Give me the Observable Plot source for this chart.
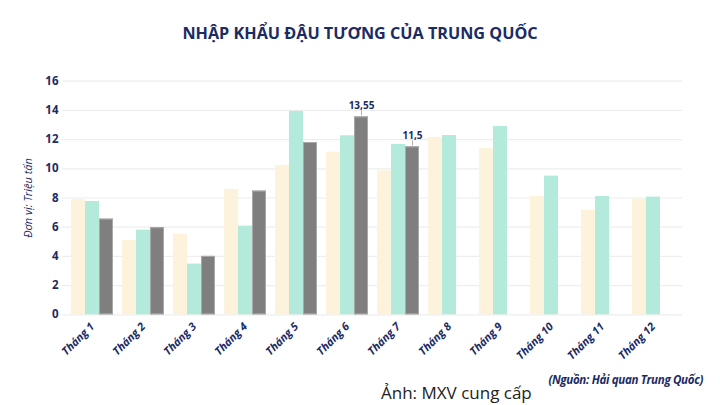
<!DOCTYPE html>
<html>
<head>
<meta charset="utf-8">
<script src="https://cdn.jsdelivr.net/npm/d3@7"></script>
<script src="https://cdn.jsdelivr.net/npm/@observablehq/plot@0.6"></script>
<style>
  html, body { margin: 0; padding: 0; background: #fff; }
  #wrap { position: relative; width: 720px; height: 405px; overflow: hidden; font-family: "Open Sans", sans-serif; }
  #title { position: absolute; left: 0; width: 720px; top: 22px; text-align: center; font-weight: 700; font-size: 16.2px; color: #1b2b63; }
  #ylabel { position: absolute; left: 27px; top: 198px; transform: translate(-50%, -50%) rotate(-90deg); white-space: nowrap; font-style: italic; font-size: 11px; color: #1b2b63; font-family: "Open Sans", sans-serif; }
  #source { position: absolute; right: 17px; top: 372px; font-family: "Open Sans", sans-serif; font-weight: 700; font-style: italic; font-size: 11.6px; letter-spacing: -0.35px; color: #1b2b63; }
  #credit { position: absolute; left: 381px; top: 381px; font-family: "Open Sans", sans-serif; font-size: 17px; color: #222; }
  #grid, #chart { position: absolute; left: 0; top: 0; }
  #chart svg [aria-label="y-axis tick label"] text { font-weight: 700; font-size: 11.5px; fill: #1b2b63; }
  #chart svg [aria-label="fx-axis tick label"] text { font-weight: 700; font-style: italic; font-size: 11px; fill: #1b2b63; }
</style>
</head>
<body>
<div id="wrap">
  <div id="grid"></div>
  <div id="chart"></div>
  <div id="title">NHẬP KHẨU ĐẬU TƯƠNG CỦA TRUNG QUỐC</div>
  <div id="ylabel">Đơn vị: Triệu tấn</div>
  <div id="source">(Nguồn: Hải quan Trung Quốc)</div>
  <div id="credit">Ảnh: MXV cung cấp</div>
</div>
<script>
const months = ["Tháng 1","Tháng 2","Tháng 3","Tháng 4","Tháng 5","Tháng 6","Tháng 7","Tháng 8","Tháng 9","Tháng 10","Tháng 11","Tháng 12"];
const seriesNames = ["2023","2024","2025"];
const values2023 = [7.90, 5.09, 5.52, 8.58, 10.23, 11.14, 9.86, 12.15, 11.39, 8.10, 7.15, 7.92];
const values2024 = [7.76, 5.80, 3.47, 6.07, 13.93, 12.26, 11.67, 12.28, 12.90, 9.50, 8.10, 8.06];
const values2025 = [6.55, 5.96, 4.00, 8.47, 11.80, 13.55, 11.50];
const labelledMonths = ["Tháng 6", "Tháng 7"];
const yTicks = [0, 2, 4, 6, 8, 10, 12, 14, 16];
const seriesColors = ["#fdf2dc", "#b3eadb", "#7f7f7f"];

const allValues = [values2023, values2024, values2025];
const data = [];
allValues.forEach((vals, si) => {
  vals.forEach((v, mi) => data.push({month: months[mi], series: seriesNames[si], value: v}));
});
const labelData = data.filter(d => d.series === "2025" && labelledMonths.includes(d.month))
  .map(d => ({...d, text: String(d.value).replace(".", ",")}));

const common = {
  width: 720,
  height: 405,
  marginTop: 80.7,
  marginBottom: 90.7,
  marginLeft: 62,
  marginRight: 38,
  style: {fontFamily: "Open Sans, sans-serif", background: "transparent", overflow: "visible"}
};

const grid = Plot.plot({
  ...common,
  x: {axis: null},
  y: {domain: [0, 16], axis: null},
  marks: [Plot.ruleY(yTicks, {stroke: "#eeeeee", strokeWidth: 1.2})]
});
document.getElementById("grid").appendChild(grid);

const chart = Plot.plot({
  ...common,
  fx: {domain: months, paddingInner: 0.145, paddingOuter: 0.04, label: null, tickRotate: -45, tickSize: 0, tickPadding: 10},
  x: {domain: seriesNames, padding: 0, axis: null},
  y: {domain: [0, 16], ticks: yTicks, label: null, tickSize: 0, tickPadding: 12, tickFormat: d => String(d)},
  color: {domain: seriesNames, range: seriesColors},
  marks: [
    Plot.barY(data, {fx: "month", x: "series", y: "value", fill: "series"}),
    Plot.barY(data.filter(d => d.series === "2025"), {fx: "month", x: "series", y: "value", fill: "#7f7f7f", stroke: "#a8a8a8", strokeWidth: 1, inset: 0.5}),
    Plot.ruleX(labelData, {fx: "month", x: "series", y1: "value", y2: "value", insetTop: -1, insetBottom: 6, stroke: "#b0b0b0", strokeWidth: 1}),
    Plot.text(labelData, {fx: "month", x: "series", y: "value", text: "text", dy: -11, fill: "#1b2b63", fontWeight: 700, fontSize: 10})
  ]
});
document.getElementById("chart").appendChild(chart);
</script>
</body>
</html>
